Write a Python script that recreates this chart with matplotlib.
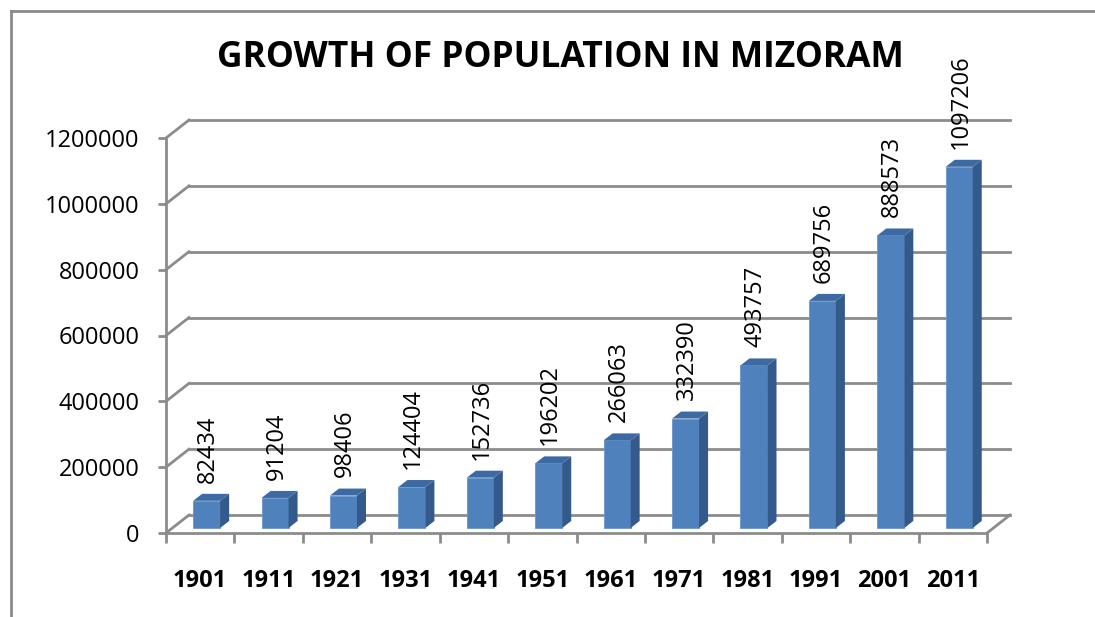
import numpy as np
import matplotlib
matplotlib.use('Agg')
import matplotlib.pyplot as plt
from matplotlib.patches import Polygon
from matplotlib.lines import Line2D

# census data
years = ['1901', '1911', '1921', '1931', '1941', '1951',
         '1961', '1971', '1981', '1991', '2001', '2011']
population = [82434, 91204, 98406, 124404, 152736, 196202,
              266063, 332390, 493757, 689756, 888573, 1097206]
yticks = [0, 200000, 400000, 600000, 800000, 1000000, 1200000]

W, H = 1095, 617
fig = plt.figure(figsize=(W / 100, H / 100), dpi=100)
plt.rcParams['font.family'] = ['Open Sans', 'DejaVu Sans']

# front plane of the 3d box
ax = fig.add_axes([166 / W, (H - 533) / H, (987 - 166) / W, (533 - 138) / H])
ax.set_xlim(-0.5, len(years) - 0.5)
ax.set_ylim(0, 1200000)
for s in ax.spines.values():
    s.set_visible(False)

grid_c = '#8c8c8c'
DX = 23 / 68.4          # wall depth in category units
DY = 18 / 395 * 1.2e6   # wall depth in value units
x0, x1 = -0.5, len(years) - 0.5

# back wall gridlines with the left slanted joins
for v in yticks:
    ax.plot([x0, x0 + DX], [v, v + DY], color=grid_c, lw=2, clip_on=False, zorder=1)
    ax.plot([x0 + DX, x1 + DX], [v + DY, v + DY], color=grid_c, lw=2, clip_on=False, zorder=1)
# floor
ax.plot([x0, x1], [0, 0], color=grid_c, lw=2, clip_on=False, zorder=1)
ax.plot([x1, x1 + DX], [0, DY], color=grid_c, lw=2, clip_on=False, zorder=1)
# vertical axis
ax.plot([x0, x0], [0, 1200000], color=grid_c, lw=2, clip_on=False, zorder=1)

# bars
x = np.arange(len(years))
depth = 0.28
bw = 27 / 68.4
sdx = 9 / 68.4
sdy = 7 / 395 * 1.2e6
off = depth * DX
base = depth * DY
front_c, side_c, top_c = '#4f81bd', '#34598b', '#3e6aa3'

ax.bar(x + off, population, bw, bottom=base, color=front_c, zorder=3,
       edgecolor='#6a95c8', linewidth=0.6)
for xi, v in zip(x, population):
    l = xi + off - bw / 2
    r = xi + off + bw / 2
    t = base + v
    side = Polygon([(r, base), (r + sdx, base + sdy), (r + sdx, t + sdy), (r, t)],
                   closed=True, facecolor=side_c, edgecolor='none', zorder=3, clip_on=False)
    top = Polygon([(l, t), (l + sdx, t + sdy), (r + sdx, t + sdy), (r, t)],
                  closed=True, facecolor=top_c, edgecolor='none', zorder=3, clip_on=False)
    ax.add_patch(side)
    ax.add_patch(top)
    ax.annotate(str(v), (xi + off + 0.02, t + sdy), xytext=(0, 8),
                textcoords='offset points', rotation=90, ha='center', va='bottom',
                fontsize=17, color='black', clip_on=False, zorder=4)

# ticks
ax.set_yticks(yticks)
ax.set_yticklabels([str(v) for v in yticks], fontsize=17)
ax.tick_params(axis='y', length=6, width=2, color=grid_c, pad=13, direction='out')
ax.set_xticks(x)
ax.set_xticklabels(years, fontsize=17, fontweight='bold')
ax.tick_params(axis='x', which='major', length=0, pad=26)
ax.set_xticks(np.arange(len(years) + 1) - 0.5, minor=True)
ax.tick_params(axis='x', which='minor', length=7, width=2, color=grid_c, direction='out')

fig.text(560 / W, 1 - 58 / H, 'GROWTH OF POPULATION IN MIZORAM', ha='center', va='center',
         fontsize=25.5, fontweight='bold')

# chart area border (left and top)
fig.add_artist(Line2D([11 / W, 11 / W], [0, 1 - 11 / H], color='#8a8a8a', lw=2))
fig.add_artist(Line2D([11 / W, 1], [1 - 11 / H, 1 - 11 / H], color='#8a8a8a', lw=2))

fig.savefig('out.png', dpi=100)
